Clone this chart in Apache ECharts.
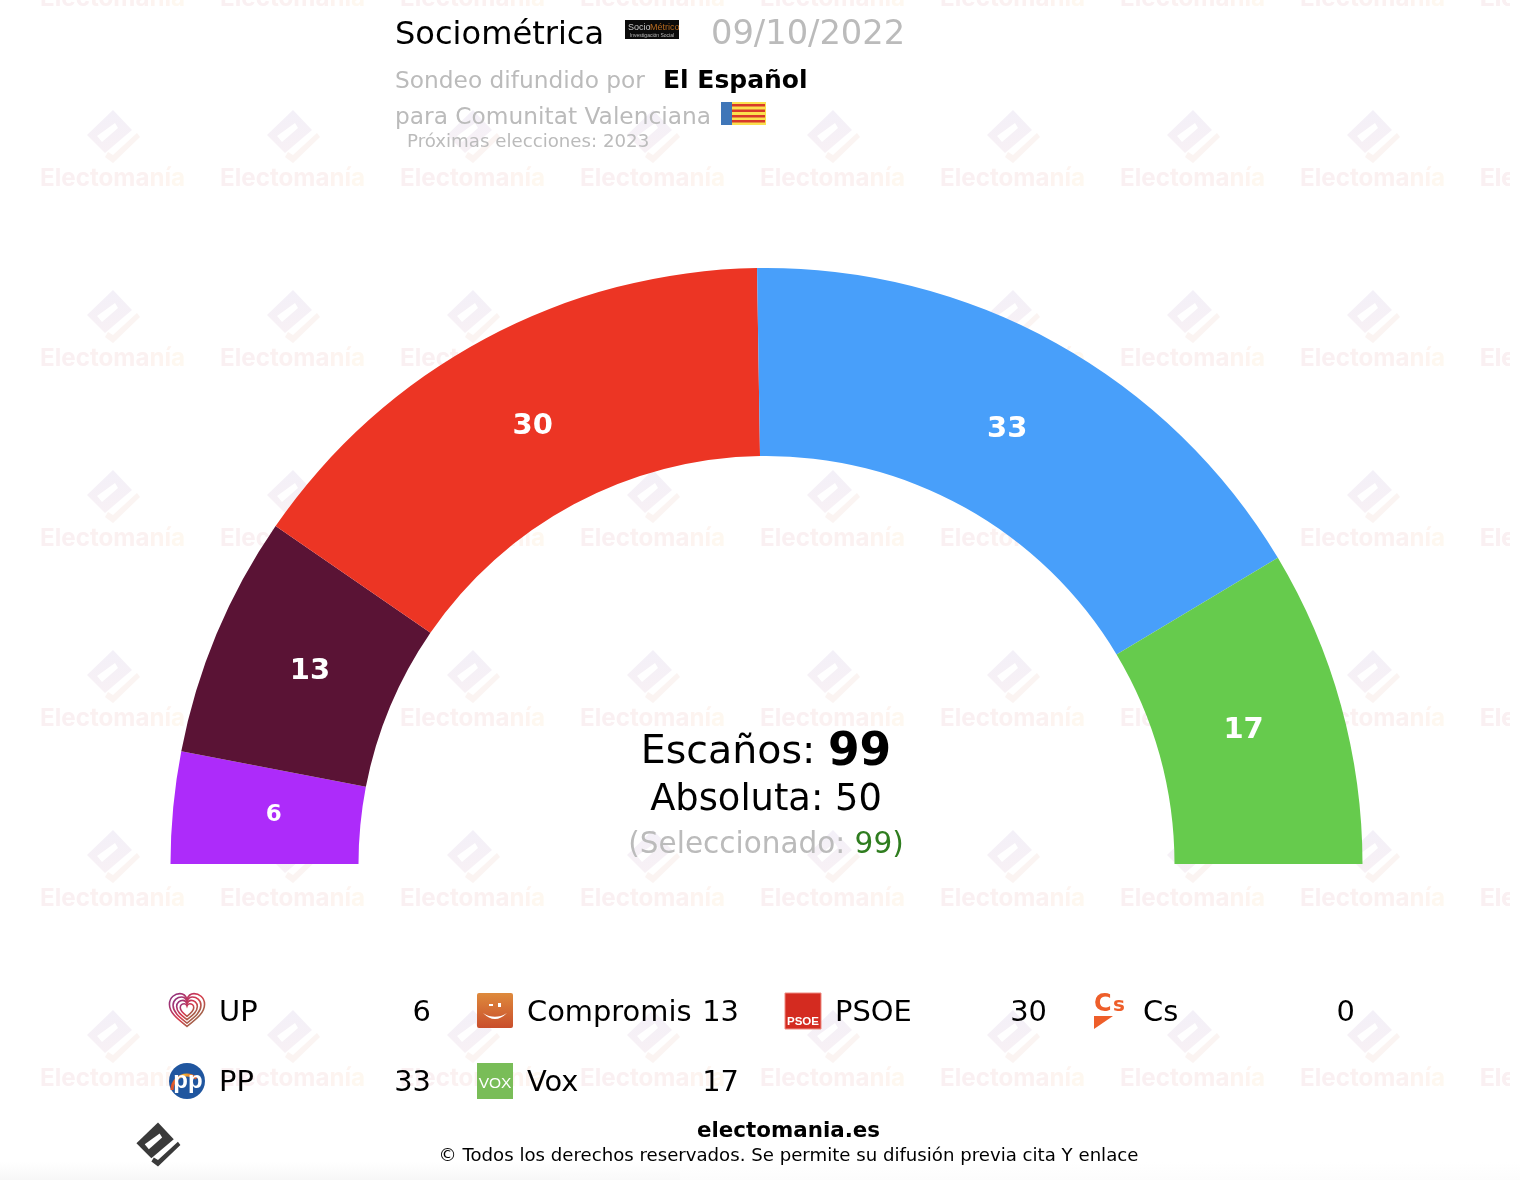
<!DOCTYPE html>
<html><head><meta charset="utf-8">
<script src="https://cdn.jsdelivr.net/npm/echarts@6/dist/echarts.min.js"></script>
<style>html,body{margin:0;padding:0;background:#fff}#c{width:1520px;height:1180px}</style>
</head><body><div id="c"></div>
<script>
var parties = ['UP','Compromis','PSOE','Cs','PP','Vox'];
var seats = [6,13,30,0,33,17];
var partyColors = ['#ad2bfa','#5a1335','#ec3524','#eb6109','#489ffa','#66cb4d'];
var totalSeats = 99, majority = 50, selected = 99;
var pollster = 'Sociométrica', pollDate = '09/10/2022', media = 'El Español';

var F = '"DejaVu Sans", Verdana, sans-serif';
var G = echarts.graphic;
var heartPath='M0 14 C-9 7 -15 2 -15 -5 C-15 -11 -10 -14 -6 -14 C-3 -14 -1 -12 0 -9 C1 -12 3 -14 6 -14 C10 -14 15 -11 15 -5 C15 2 9 7 0 14 Z';
G.registerShape('heartIcon',G.extendPath(heartPath,{}));
G.registerShape('smileIcon',G.extendPath('M0 0 Q9 7 18 0 Q9 11 0 0 Z',{}));
var els = [];
function T(s,x,y,size,color,o){
  o=o||{};
  els.push({type:'text',x:x,y:o.rich?y:y-0.76*size,z:o.z||10,silent:true,style:{text:s,fontFamily:o.family||F,fontSize:size,fontWeight:o.weight||'normal',
    fill:color,align:o.align||'left',verticalAlign:'top',rich:o.rich}});
}
function P(points,fill,z){els.push({type:'polygon',z:z,silent:true,shape:{points:points},style:{fill:fill}});}
var diamond=[[0,-27],[-26,-2],[-8,16],[19,-7]];
var slot=[[-16,-1],[2,-14],[5,-9],[-11,5]];
var check=[[24,-4],[27,0],[0,26],[-8,20],[-5,15],[0,18]];
function logo(cx,cy,k,c1,c2,c3,z){
  function m(a){return a.map(function(p){return [cx+p[0]*k,cy+p[1]*k];});}
  P(m(diamond),c1,z);P(m(slot),c3,z);P(m(check),c2,z);
}
// watermark
var wmFont={fontFamily:'Inter',fontWeight:700,fontSize:24.2};
var wmRich={a:Object.assign({fill:'#faf0f2'},wmFont),b:Object.assign({fill:'#fbf1f1'},wmFont),
  c:Object.assign({fill:'#fdf4f0'},wmFont),d:Object.assign({fill:'#fef8f0'},wmFont)};
function wmText(x,y,s){els.push({type:'text',x:x,y:y,z:1,silent:true,style:Object.assign({text:s,rich:wmRich,align:'left',verticalAlign:'middle'},wmFont)});}
var wmDiamond=new G.LinearGradient(0,0,0,1,[{offset:0,color:'#f3f0f8'},{offset:1,color:'#f8f1f5'}]);
for(var i=0;i<9;i++){for(var j=0;j<7;j++){
  var cx=113+180*i, yL=137+180*j;
  if(j<6) logo(cx,yL,1,wmDiamond,'#fbf4f2','#ffffff',1);
  wmText(cx-73,179+180*(j-1),'{a|Elec}{b|toma}{c|ní}{d|a}');
}}
for(var j=0;j<7;j++) wmText(1480,179+180*(j-1),'{a|Elec}');
els.push({type:'rect',z:2,silent:true,shape:{x:1510,y:0,width:10,height:1180},style:{fill:'#fff'}});
[[0,560,'#f7f7f7'],[560,120,'#f9f9f9'],[680,840,'#fcfcfc']].forEach(function(b){
  els.push({type:'rect',z:2,silent:true,shape:{x:b[0],y:1162,width:b[1],height:18},style:{fill:new G.LinearGradient(0,0,0,1,[{offset:0,color:'#ffffff'},{offset:1,color:b[2]}])}});
});

// header
T(pollster,395,44,32.1,'#000');
T(pollDate,711,44,33.7,'#bbbbbb');
T('Sondeo difundido por',395,88,23.3,'#bbbbbb');
T(media,663,88,25,'#000',{weight:'bold'});
T('para Comunitat Valenciana',395,124,23.3,'#bbbbbb');
T('Próximas elecciones: 2023',407,147,18.2,'#bbbbbb');
// pollster logo
els.push({type:'rect',z:10,silent:true,shape:{x:625,y:20,width:54,height:19},style:{fill:'#0b0b0b'}});
T('Socio',628,30,9,'#c9c9c9',{family:'Liberation Sans'});
T('Métrico',650,30,9,'#b5691f',{family:'Liberation Sans'});
T('Investigación Social',652,37,5,'#bbbbbb',{align:'center',family:'Liberation Sans'});
// flag
els.push({type:'rect',z:10,silent:true,shape:{x:721,y:102,width:45,height:23},style:{fill:'#fbe04e'}});
els.push({type:'rect',z:11,silent:true,shape:{x:721,y:102,width:11,height:23},style:{fill:'#3f76b8'}});
[104,109.5,115,120].forEach(function(y){els.push({type:'rect',z:11,silent:true,shape:{x:732,y:y,width:33,height:2.6},style:{fill:'#d8392a'}});});

// centre text
T('{n|Escaños: }{b|'+totalSeats+'}',766,730,0,'#000',{align:'center',rich:{n:{fontFamily:F,fontSize:39.5,fill:'#000'},b:{fontFamily:F,fontSize:45.5,fontWeight:'bold',fill:'#000'}}});
T('Absoluta: '+majority,766,810,36.8,'#000',{align:'center'});
T('{g|(Seleccionado: }{v|'+selected+')}',766,830,0,'#000',{align:'center',rich:{g:{fontFamily:F,fontSize:29.5,fill:'#bbbbbb'},v:{fontFamily:F,fontSize:29.5,fill:'#2f7d1f'}}});

// legend
var legendNameX=[219,527,835,1143], legendValueX=[431,739,1047,1355], legendY=[1021,1091];
parties.forEach(function(p,i){
  var col=i%4,row=Math.floor(i/4);
  T(p,legendNameX[col],legendY[row],28.9,'#000');
  T(String(seats[i]),legendValueX[col],legendY[row],28.9,'#000',{align:'right'});
});
// UP icon
[1.17,0.93,0.69,0.45].forEach(function(k){
  els.push({type:'heartIcon',z:10,silent:true,x:187,y:1010,scaleX:k,scaleY:k,
    style:{fill:'none',lineWidth:1.6,strokeNoScale:true,stroke:new G.LinearGradient(0,0,1,1,[{offset:0,color:'#7a2f8f'},{offset:0.5,color:'#d8384a'},{offset:1,color:'#6b8f4a'}])}});
});
// Compromis icon
els.push({type:'rect',z:10,silent:true,shape:{x:477,y:993,width:36,height:35,r:2},style:{fill:new G.LinearGradient(0,0,0,1,[{offset:0,color:'#de8a3c'},{offset:1,color:'#c94e2c'}])}});
els.push({type:'smileIcon',z:11,silent:true,x:483,y:1013,scaleX:1.33,scaleY:1.1,style:{fill:'#fff'}});
els.push({type:'rect',z:11,silent:true,shape:{x:489,y:1004,width:4,height:2},style:{fill:'#fff'}});
els.push({type:'rect',z:11,silent:true,shape:{x:498,y:1003,width:3,height:4},style:{fill:'#fff'}});
// PSOE icon
els.push({type:'rect',z:10,silent:true,shape:{x:785,y:993,width:36,height:36},style:{fill:'#d42b20',stroke:'#ee8a80',lineWidth:1}});
T('PSOE',803,1025,11.5,'#fff',{align:'center',weight:'bold',family:'Liberation Sans'});
// Cs icon
T('C',1094,1011,24,'#ee5e2a',{weight:'bold'});
T('s',1113,1011,20,'#ee5e2a',{weight:'bold'});
P([[1094,1016],[1113,1016],[1094,1029]],'#ee5e2a',10);
// PP icon
els.push({type:'circle',z:10,silent:true,shape:{cx:187,cy:1081,r:18},style:{fill:'#20569f'}});
els.push({type:'arc',z:11,silent:true,shape:{cx:187,cy:1090,r:15,startAngle:Math.PI*1.0,endAngle:Math.PI*1.72},style:{fill:'none',stroke:new G.LinearGradient(0,0,1,0,[{offset:0,color:'#d8402a'},{offset:0.5,color:'#f4b030'},{offset:1,color:'#d8402a'}]),lineWidth:3}});
T('pp',188,1088,24,'#fff',{align:'center',weight:'bold',family:'Liberation Sans',z:12});
// Vox icon
els.push({type:'rect',z:10,silent:true,shape:{x:477,y:1063,width:36,height:36},style:{fill:'#79bd58'}});
T('VOX',495,1087,15.5,'#fff',{align:'center',family:'Liberation Sans'});

// footer
logo(158,1145,0.83,'#3a3a3a','#3a3a3a','#ffffff',10);
T('electomania.es',788.5,1137,21.4,'#000',{align:'center',weight:'bold'});
T('© Todos los derechos reservados. Se permite su difusión previa cita Y enlace',788.5,1161,18.15,'#000',{align:'center'});

var pieData = parties.map(function(p,i){
  var v=seats[i];
  return {name:p,value:v,itemStyle:{color:partyColors[i]},label:{show:v>0,fontSize:v<10?23:29}};
});
// pull every slice label slightly towards the centre, along its own radius
var labelInset=10;
function labelShift(params){
  var before=0;
  for(var k=0;k<params.dataIndex;k++) before+=seats[k];
  var a=Math.PI*(before+seats[params.dataIndex]/2)/totalSeats;
  return {dx:labelInset*Math.cos(a),dy:labelInset*Math.sin(a)-1.5};
}
var chart=echarts.init(document.getElementById('c'),null,{renderer:'canvas',width:1520,height:1180});
chart.setOption({
  animation:false,
  backgroundColor:'#fff',
  graphic:{elements:els},
  series:[{type:'pie',center:[766.5,864],radius:[408,596],startAngle:180,endAngle:0,clockwise:true,silent:true,z:5,
    label:{position:'inside',formatter:'{c}',color:'#fff',fontFamily:F,fontWeight:'bold'},labelLine:{show:false},
    labelLayout:labelShift,
    data:pieData}]
});
</script></body></html>
